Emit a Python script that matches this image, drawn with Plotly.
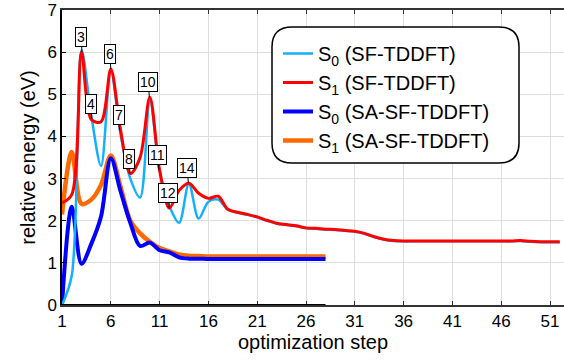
import plotly.graph_objects as go

steps_sf = list(range(1, 53))
steps_sa = list(range(1, 29))

s1_sf = [2.42, 2.62, 6.0, 4.4, 4.35, 5.6, 4.15, 3.12, 3.5, 4.93,
         3.2, 2.3, 2.72, 2.89, 2.65, 2.53, 2.58, 2.27, 2.2, 2.15,
         2.09, 2.01, 1.94, 1.91, 1.88, 1.83, 1.82, 1.8, 1.79, 1.77,
         1.75, 1.7, 1.62, 1.56, 1.53, 1.52, 1.52, 1.52, 1.52, 1.52,
         1.52, 1.52, 1.52, 1.52, 1.52, 1.52, 1.52, 1.53, 1.51, 1.5,
         1.5, 1.5]
s0_sf_head = [0.0, 0.7, 6.05, 4.5, 3.3, 5.55, 4.05, 3.0, 2.55, 4.85,
              3.2, 2.35, 1.95, 2.88, 2.05, 2.45, 2.5]
s0_sf = s0_sf_head + [v - 0.01 for v in s1_sf[len(s0_sf_head):]]

s0_sa = [0.0, 2.33, 0.98, 1.45, 2.1, 3.48, 2.7, 1.95, 1.4, 1.48,
         1.3, 1.25, 1.13, 1.1, 1.1, 1.09, 1.09, 1.09, 1.09, 1.09,
         1.09, 1.09, 1.09, 1.09, 1.09, 1.09, 1.09, 1.09]
s1_sa = [2.15, 3.63, 2.4, 2.5, 2.85, 3.55, 2.8, 2.0, 1.7, 1.5,
         1.35, 1.27, 1.2, 1.17, 1.16, 1.15, 1.15, 1.15, 1.15, 1.15,
         1.15, 1.15, 1.15, 1.15, 1.15, 1.15, 1.15, 1.15]

label_text = ["3", "4", "6", "7", "8", "10", "11", "12", "14"]
label_x = [3.05, 4.05, 6.0, 6.9, 7.97, 9.95, 10.93, 12.0, 13.94]
label_y = [6.0, 4.42, 5.6, 4.15, 3.12, 4.93, 3.2, 2.29, 2.9]

x_ticks = [1, 6, 11, 16, 21, 26, 31, 36, 41, 46, 51]
y_ticks = [0, 1, 2, 3, 4, 5, 6, 7]

FONT = "Liberation Sans, Arial, Helvetica, sans-serif"
AXIS = "#333333"

fig = go.Figure()
fig.add_trace(go.Scatter(x=steps_sa, y=s1_sa, mode="lines", name="S<sub>1</sub> (SA-SF-TDDFT)",
                         line=dict(color="#ff6a00", width=4.5, shape="spline", smoothing=0.9), legendrank=4))
fig.add_trace(go.Scatter(x=steps_sa, y=s0_sa, mode="lines", name="S<sub>0</sub> (SA-SF-TDDFT)",
                         line=dict(color="#0000ff", width=4, shape="spline", smoothing=0.9), legendrank=3))
fig.add_trace(go.Scatter(x=steps_sf, y=s0_sf, mode="lines", name="S<sub>0</sub> (SF-TDDFT)",
                         line=dict(color="#12b0ff", width=2.5, shape="spline", smoothing=0.9), legendrank=1))
fig.add_trace(go.Scatter(x=steps_sf, y=s1_sf, mode="lines", name="S<sub>1</sub> (SF-TDDFT)",
                         line=dict(color="#ff0000", width=3, shape="spline", smoothing=0.9), legendrank=2))

for t, xv, yv in zip(label_text, label_x, label_y):
    fig.add_annotation(x=xv, y=yv, text=t, showarrow=True, arrowhead=0, arrowwidth=1,
                       arrowcolor="black", ax=-1, ay=-15, bgcolor="white", bordercolor="black",
                       borderwidth=1, borderpad=1, font=dict(family=FONT, size=14, color="black"))

# darker bottom axis segment spanning the SA-SF-TDDFT steps
fig.add_shape(type="line", x0=steps_sa[0], x1=steps_sa[-1], y0=0, y1=0, xref="x", yref="y",
              line=dict(color="black", width=2.2), layer="above")

# rounded legend frame (paper coords computed from pixel geometry of plot area)
L, T, W, H = 62, 10, 502, 295
def px(x):
    return (x - L) / W
def py(y):
    return (T + H - y) / H
x0, x1, y0, y1, r = 272, 519, 27, 163, 20
path = (f"M {px(x0 + r)} {py(y0)} L {px(x1 - r)} {py(y0)} Q {px(x1)} {py(y0)} {px(x1)} {py(y0 + r)} "
        f"L {px(x1)} {py(y1 - r)} Q {px(x1)} {py(y1)} {px(x1 - r)} {py(y1)} "
        f"L {px(x0 + r)} {py(y1)} Q {px(x0)} {py(y1)} {px(x0)} {py(y1 - r)} "
        f"L {px(x0)} {py(y0 + r)} Q {px(x0)} {py(y0)} {px(x0 + r)} {py(y0)} Z")
fig.add_shape(type="path", path=path, xref="paper", yref="paper",
              line=dict(color="black", width=1.5), fillcolor="white", layer="above")

fig.update_layout(
    width=564, height=360,
    margin=dict(l=L, r=0, t=T, b=360 - T - H),
    paper_bgcolor="white", plot_bgcolor="white",
    font=dict(family=FONT, size=17, color="black"),
    showlegend=True,
    legend=dict(x=px(278), y=py(34), xanchor="left", yanchor="top", bgcolor="rgba(0,0,0,0)",
                borderwidth=0, font=dict(family=FONT, size=20, color="black"),
                itemwidth=30, tracegroupgap=0),
    xaxis=dict(range=[1, 1 + W / 9.76], tickvals=x_ticks, ticktext=[str(v) for v in x_ticks],
               showgrid=True, gridcolor="#dedede", gridwidth=1, zeroline=False,
               showline=True, linecolor=AXIS, linewidth=1.5, mirror="allticks",
               ticks="inside", ticklen=4, tickcolor=AXIS,
               title=dict(text="optimization step", font=dict(size=20), standoff=4),
               tickfont=dict(size=17)),
    yaxis=dict(range=[0, 7], tickvals=y_ticks, showgrid=True, gridcolor="#dedede", gridwidth=1,
               zeroline=False, showline=True, linecolor="black", linewidth=1.5,
               ticks="inside", ticklen=4, tickcolor="black",
               title=dict(text="relative energy (eV)", font=dict(size=20), standoff=6),
               tickfont=dict(size=17)),
)

fig.write_html("out.html")
